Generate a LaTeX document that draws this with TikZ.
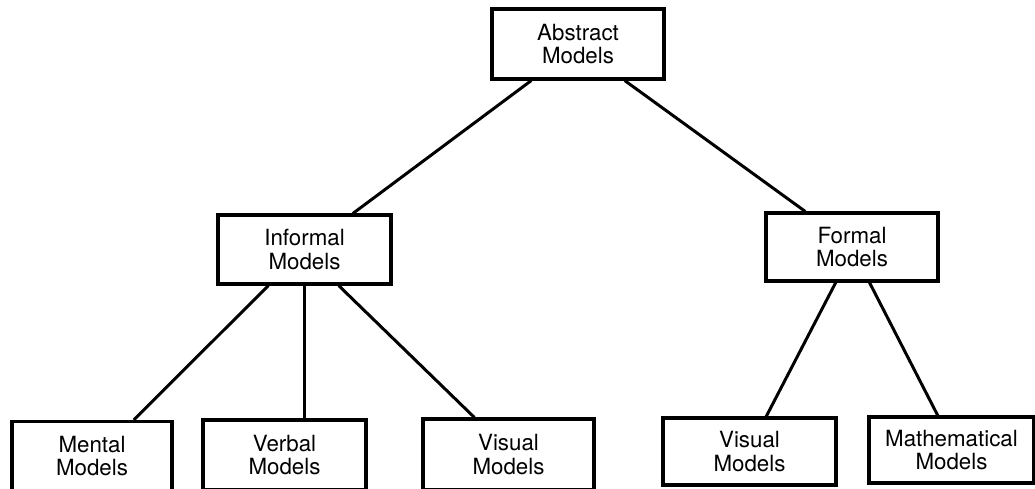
\documentclass[tikz,border=0pt]{standalone}
\usepackage{fontspec}
\setmainfont{TeX Gyre Heros}
\usetikzlibrary{positioning}
\usetikzlibrary{calc}
\tikzset{
    model/.style = {rectangle,draw,line width=1.8pt,align=center,inner sep=0pt,
        minimum width=3.44cm,minimum height=1.38cm,
        font=\fontsize{12.7}{13.6}\selectfont},
    branch/.style = {line width=1.7pt}}

\begin{document}
\begin{tikzpicture}[x=0.02cm,y=-0.02cm]
        \useasboundingbox (0,0) rectangle (1035,488);
        \path (578,44) node[model,minimum height=1.4cm] (abs) {Abstract\\Models}
        (304.5,249.5) node[model,minimum width=3.46cm] (inf) {Informal\\Models}
        (852,247) node[model,minimum height=1.36cm] (frm) {Formal\\Models}
        (92,456) node[model,minimum width=3.2cm] (men) {Mental\\Models}
        (284.5,455) node[model,minimum width=3.26cm,minimum height=1.4cm] (vrb) {Verbal\\Models}
        (508.5,454.5) node[model,minimum width=3.42cm,minimum height=1.42cm] (visl) {Visual\\Models}
        (749.5,451.5) node[model,minimum width=3.46cm,minimum height=1.34cm] (visr) {Visual\\Models}
        (951.5,450) node[model,minimum width=3.3cm,minimum height=1.32cm] (math) {Mathematical\\Models};
        \draw[branch] ($(abs.south west)!0.233!(abs.south east)$) -- ($(inf.north west)!0.775!(inf.north east)$);
        \draw[branch] ($(abs.south west)!0.767!(abs.south east)$) -- ($(frm.north west)!0.233!(frm.north east)$);
        \draw[branch] ($(inf.south west)!0.295!(inf.south east)$) -- ($(men.north west)!0.756!(men.north east)$);
        \draw[branch] (inf.south) -- (inf.south |- vrb.north);
        \draw[branch] ($(inf.south west)!0.694!(inf.south east)$) -- ($(visl.north west)!0.304!(visl.north east)$);
        \draw[branch] ($(frm.south west)!0.407!(frm.south east)$) -- ($(visr.north west)!0.595!(visr.north east)$);
        \draw[branch] ($(frm.south west)!0.6!(frm.south east)$) -- ($(math.north west)!0.418!(math.north east)$);
\end{tikzpicture}
\end{document}
